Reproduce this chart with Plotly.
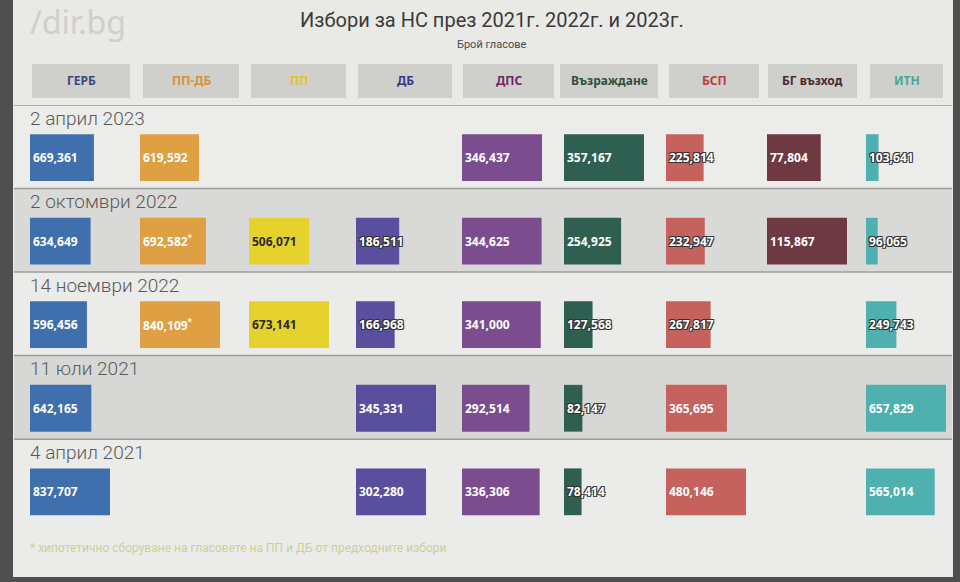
import plotly.graph_objects as go

# ---------------- data ----------------
dates = ["2 април 2023", "2 октомври 2022", "14 ноември 2022", "11 юли 2021", "4 април 2021"]
parties = ["ГЕРБ", "ПП-ДБ", "ПП", "ДБ", "ДПС", "Възраждане", "БСП", "БГ възход", "ИТН"]

gerb = [669361, 634649, 596456, 642165, 837707]
ppdb = [619592, 692582, 840109, None, None]
pp = [None, 506071, 673141, None, None]
db = [None, 186511, 166968, 345331, 302280]
dps = [346437, 344625, 341000, 292514, 336306]
vazr = [357167, 254925, 127568, 82147, 78414]
bsp = [225814, 232947, 267817, 365695, 480146]
bgv = [77804, 115867, None, None, None]
itn = [103641, 96065, 249743, 657829, 565014]
series = [gerb, ppdb, pp, db, dps, vazr, bsp, bgv, itn]

# hypothetical sums (marked with *)
ppdb_star = [False, True, True, False, False]

footnote = "* хипотетично сборуване на гласовете на ПП и ДБ от предходните избори"
title = "Избори за НС през 2021г. 2022г. и 2023г."
subtitle = "Брой гласове"

# ---------------- styles ----------------
bar_colors = ["#3f70ad", "#dea042", "#e6d22c", "#5a4f9e", "#7b4d8f",
              "#2f5f50", "#c6625d", "#6e3942", "#4fb0b0"]
head_colors = ["#3b4a7c", "#d4923a", "#e2c42a", "#3c3486", "#6a2a6a",
               "#2f4f3f", "#b84040", "#4a2a30", "#4aa59a"]
col_left_px = [30, 140, 249, 356, 462, 564, 666, 767, 866]
head_box_px = [(32, 130), (143, 239), (251, 346), (358, 452), (463, 554),
               (560, 658), (669, 759), (768, 857), (870, 943)]
COL_W = 92      # px width of each column's axis
MAX_W = 80      # px used by the largest bar of a column

W, H = 960, 582
T, B = 105, 5
PH = H - T - B


def pxx(p):
    return p / W


def pyy(p):
    return (H - B - p) / PH


fig = go.Figure()
layout_axes = {}
for i, (party, vals) in enumerate(zip(parties, series)):
    ax = "x" if i == 0 else f"x{i+1}"
    axname = "xaxis" if i == 0 else f"xaxis{i+1}"
    colmax = max(v for v in vals if v is not None)
    ys, xs, texts = [], [], []
    for k, v in enumerate(vals):
        if v is None:
            continue
        ys.append(dates[k])
        xs.append(v)
        t = f"{v:,}"
        if party == "ПП-ДБ" and ppdb_star[k]:
            t += "<sup>*</sup>"
        texts.append(t)
    for y, x, t in zip(ys, xs, texts):
        narrow = x / colmax < 0.6
        fig.add_trace(go.Bar(
            x=[x], y=[y], orientation="h", xaxis=ax, yaxis="y",
            marker=dict(color=bar_colors[i], line=dict(width=0)),
            width=0.56, offset=-0.15,
            text=[t], textposition="inside", insidetextanchor="start",
            textangle=0, constraintext="none", cliponaxis=False,
            textfont=dict(
                family="Noto Sans, DejaVu Sans", size=12, weight="bold",
                color="#2a2a2a" if party == "ПП" else "#ffffff",
                shadow=("-1px -1px 0 #333, 1px -1px 0 #333, -1px 1px 0 #333, 1px 1px 0 #333"
                        if narrow and party != "ПП" else "none"),
            ),
            showlegend=False, hoverinfo="x+y", name=party,
        ))
    d0 = pxx(col_left_px[i])
    d1 = min(pxx(col_left_px[i] + COL_W), 1.0)
    layout_axes[axname] = dict(
        domain=[d0, d1], anchor="y", range=[0, colmax * COL_W / MAX_W],
        visible=False, fixedrange=True,
    )

shapes = []
# light panel over dark bezel
shapes.append(dict(type="rect", xref="paper", yref="paper",
                   x0=pxx(13), x1=pxx(953), y0=pyy(577), y1=pyy(0),
                   fillcolor="#e9e9e6", line=dict(width=0), layer="below"))
band_colors = ["#ececea", "#d9d9d7", "#ebebe9", "#d7d7d5", "#ebebe9"]
for k in range(5):
    y0 = k - 0.5
    y1 = k + 0.5 if k < 4 else 5.15
    shapes.append(dict(type="rect", xref="paper", yref="y",
                       x0=pxx(14), x1=pxx(952), y0=y0, y1=y1,
                       fillcolor=band_colors[k], line=dict(width=0), layer="below"))
    shapes.append(dict(type="line", xref="paper", yref="y",
                       x0=pxx(14), x1=pxx(952), y0=y0, y1=y0,
                       line=dict(color="#9c9c9a", width=1.5), layer="below"))
# header boxes
for (a, b) in head_box_px:
    shapes.append(dict(type="rect", xref="paper", yref="paper",
                       x0=pxx(a), x1=pxx(b), y0=pyy(98), y1=pyy(64),
                       fillcolor="#cfcfcc", line=dict(width=0), layer="below"))

annotations = []
annotations.append(dict(text="/dir.bg", xref="paper", yref="paper",
                        x=pxx(28), y=pyy(22), xanchor="left", yanchor="middle",
                        showarrow=False,
                        font=dict(family="Noto Sans, DejaVu Sans", size=32, color="#cfcfcc")))
annotations.append(dict(text=title, xref="paper", yref="paper",
                        x=pxx(492), y=pyy(20), xanchor="center", yanchor="middle",
                        showarrow=False,
                        font=dict(family="Liberation Sans Narrow, Roboto", size=20, color="#3a3a3a")))
annotations.append(dict(text=subtitle, xref="paper", yref="paper",
                        x=pxx(492), y=pyy(45), xanchor="center", yanchor="middle",
                        showarrow=False,
                        font=dict(family="Liberation Sans Narrow, Roboto", size=11, color="#4a4a4a")))
for i, party in enumerate(parties):
    a, b = head_box_px[i]
    annotations.append(dict(text=f"<b>{party}</b>", xref="paper", yref="paper",
                            x=pxx((a + b) / 2), y=pyy(81), xanchor="center", yanchor="middle",
                            showarrow=False,
                            font=dict(family="Noto Sans, DejaVu Sans", size=12, color=head_colors[i])))
for k, d in enumerate(dates):
    annotations.append(dict(text=d, xref="paper", yref="y",
                            x=pxx(28), y=k - 0.34, xanchor="left", yanchor="middle",
                            showarrow=False,
                            font=dict(family="Roboto", size=19, weight=300, color="#5a5a5a")))
annotations.append(dict(text=footnote, xref="paper", yref="y",
                        x=pxx(28), y=4.8, xanchor="left", yanchor="middle",
                        showarrow=False,
                        font=dict(family="Liberation Sans Narrow, Roboto", size=12, color="#cfcf9a")))

fig.update_layout(
    width=W, height=H,
    margin=dict(l=0, r=0, t=T, b=B),
    paper_bgcolor="#4f4f4f",
    plot_bgcolor="rgba(0,0,0,0)",
    barmode="overlay",
    shapes=shapes,
    annotations=annotations,
    yaxis=dict(type="category", categoryarray=dates, categoryorder="array",
               range=[5.15, -0.5], visible=False, anchor="x", fixedrange=True),
    **layout_axes,
)

fig.write_html("out.html", config={"displayModeBar": False},
               post_script="document.body.style.margin='0px';")
